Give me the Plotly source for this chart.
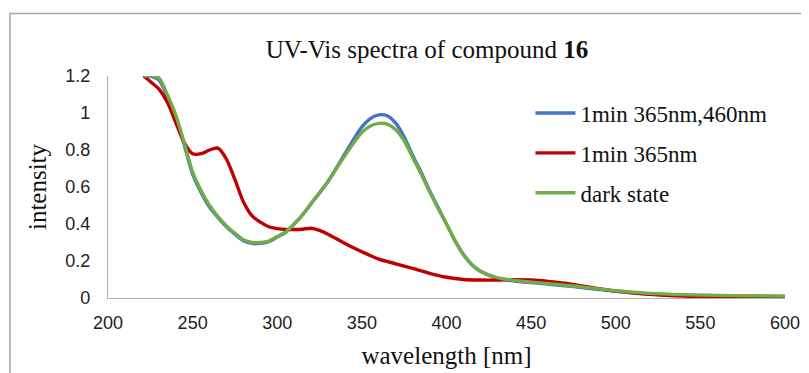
import plotly.graph_objects as go

wl_blue = [221, 225, 230, 235, 240, 245, 250, 255, 260, 265, 270, 275, 280, 285, 290, 295, 300, 305, 310, 315, 320, 330, 340, 350, 355, 360, 365, 370, 375, 380, 385, 390, 395, 400, 405, 410, 415, 420, 430, 440, 450, 460, 470, 480, 490, 500, 520, 540, 560, 580, 600]
int_blue = [1.2, 1.2, 1.18, 1.09, 0.98, 0.83, 0.67, 0.57, 0.49, 0.435, 0.385, 0.345, 0.31, 0.295, 0.295, 0.305, 0.33, 0.355, 0.40, 0.45, 0.51, 0.63, 0.78, 0.925, 0.97, 0.99, 0.985, 0.945, 0.87, 0.77, 0.68, 0.58, 0.49, 0.40, 0.31, 0.235, 0.18, 0.145, 0.108, 0.092, 0.083, 0.075, 0.066, 0.057, 0.046, 0.036, 0.022, 0.015, 0.012, 0.010, 0.008]

wl_red = [221, 225, 230, 235, 240, 245, 250, 255, 260, 265, 270, 275, 280, 285, 290, 295, 300, 305, 310, 315, 320, 325, 330, 340, 350, 360, 370, 380, 390, 400, 410, 420, 430, 440, 450, 460, 470, 480, 490, 500, 520, 540, 560, 580, 600]
int_red = [1.2, 1.17, 1.13, 1.06, 0.95, 0.84, 0.78, 0.78, 0.80, 0.81, 0.75, 0.64, 0.52, 0.445, 0.41, 0.385, 0.375, 0.37, 0.37, 0.372, 0.377, 0.365, 0.345, 0.295, 0.25, 0.21, 0.185, 0.16, 0.133, 0.112, 0.10, 0.097, 0.097, 0.099, 0.097, 0.09, 0.08, 0.065, 0.05, 0.038, 0.02, 0.01, 0.006, 0.004, 0.003]

wl_green = [221, 225, 230, 235, 240, 245, 250, 255, 260, 265, 270, 275, 280, 285, 290, 295, 300, 305, 310, 315, 320, 330, 340, 350, 355, 360, 365, 370, 375, 380, 385, 390, 395, 400, 405, 410, 415, 420, 430, 440, 450, 460, 470, 480, 490, 500, 520, 540, 560, 580, 600]
int_green = [1.2, 1.2, 1.19, 1.1, 0.99, 0.84, 0.68, 0.58, 0.5, 0.44, 0.39, 0.35, 0.315, 0.3, 0.3, 0.308, 0.332, 0.357, 0.40, 0.45, 0.51, 0.63, 0.77, 0.895, 0.93, 0.944, 0.94, 0.91, 0.85, 0.76, 0.67, 0.575, 0.485, 0.40, 0.31, 0.235, 0.18, 0.145, 0.11, 0.095, 0.086, 0.078, 0.069, 0.06, 0.049, 0.039, 0.025, 0.018, 0.014, 0.012, 0.010]

names = ["1min 365nm,460nm", "1min 365nm", "dark state"]
colors = ["#4472C4", "#C00000", "#70AD47"]

x_ticks = [200, 250, 300, 350, 400, 450, 500, 550, 600]
y_ticks = [0, 0.2, 0.4, 0.6, 0.8, 1.0, 1.2]
y_tick_text = ["0", "0.2", "0.4", "0.6", "0.8", "1", "1.2"]

serif = "Liberation Serif"
sans = "Liberation Sans"

fig = go.Figure()
for i, (xs, ys) in enumerate([(wl_blue, int_blue), (wl_red, int_red), (wl_green, int_green)]):
    fig.add_trace(go.Scatter(
        x=xs, y=ys, mode="lines", name=names[i], legendgroup=names[i],
        line=dict(color=colors[i], width=3.4, shape="spline", smoothing=0.8),
        cliponaxis=True,
    ))

# page body has an 8px margin, so the figure is 8px smaller than the window
fig.update_layout(
    width=801, height=365,
    margin=dict(l=100, r=24, t=68, b=75, autoexpand=False),
    paper_bgcolor="white", plot_bgcolor="white",
    title=dict(text="UV-Vis spectra of compound <b>16</b>", x=0.523, xanchor="center",
               y=0.888, yanchor="middle", font=dict(family=serif, size=25, color="#111")),
    showlegend=True,
    legend=dict(x=0.624, y=0.93, xanchor="left", yanchor="top", bgcolor="rgba(0,0,0,0)",
                font=dict(family=serif, size=23, color="#111"), tracegroupgap=7,
                itemwidth=40),
    xaxis=dict(range=[200, 600], tickvals=x_ticks, ticks="outside", ticklen=8,
               tickcolor="rgba(0,0,0,0)", showgrid=False, zeroline=False, automargin=False,
               showline=True, linecolor="#b0b0b0", linewidth=1.3,
               tickfont=dict(family=sans, size=18, color="#222"),
               title=dict(text="wavelength [nm]", font=dict(family=serif, size=25, color="#111"), standoff=14)),
    yaxis=dict(range=[0, 1.2], tickvals=y_ticks, ticktext=y_tick_text, ticks="outside", ticklen=13,
               tickcolor="rgba(0,0,0,0)", showgrid=False, automargin=False,
               zeroline=False, showline=True, linecolor="#b0b0b0", linewidth=1.3,
               tickfont=dict(family=sans, size=18, color="#222"),
               title=dict(text="intensity", font=dict(family=serif, size=25, color="#111"), standoff=11)),
    shapes=[dict(type="rect", xref="paper", yref="paper", x0=-0.1448, x1=1.05, y0=-0.36, y1=1.2815,
                 line=dict(color="#a6a6a6", width=1.5), fillcolor="rgba(0,0,0,0)", layer="below")],
)

fig.write_html("out.html")
